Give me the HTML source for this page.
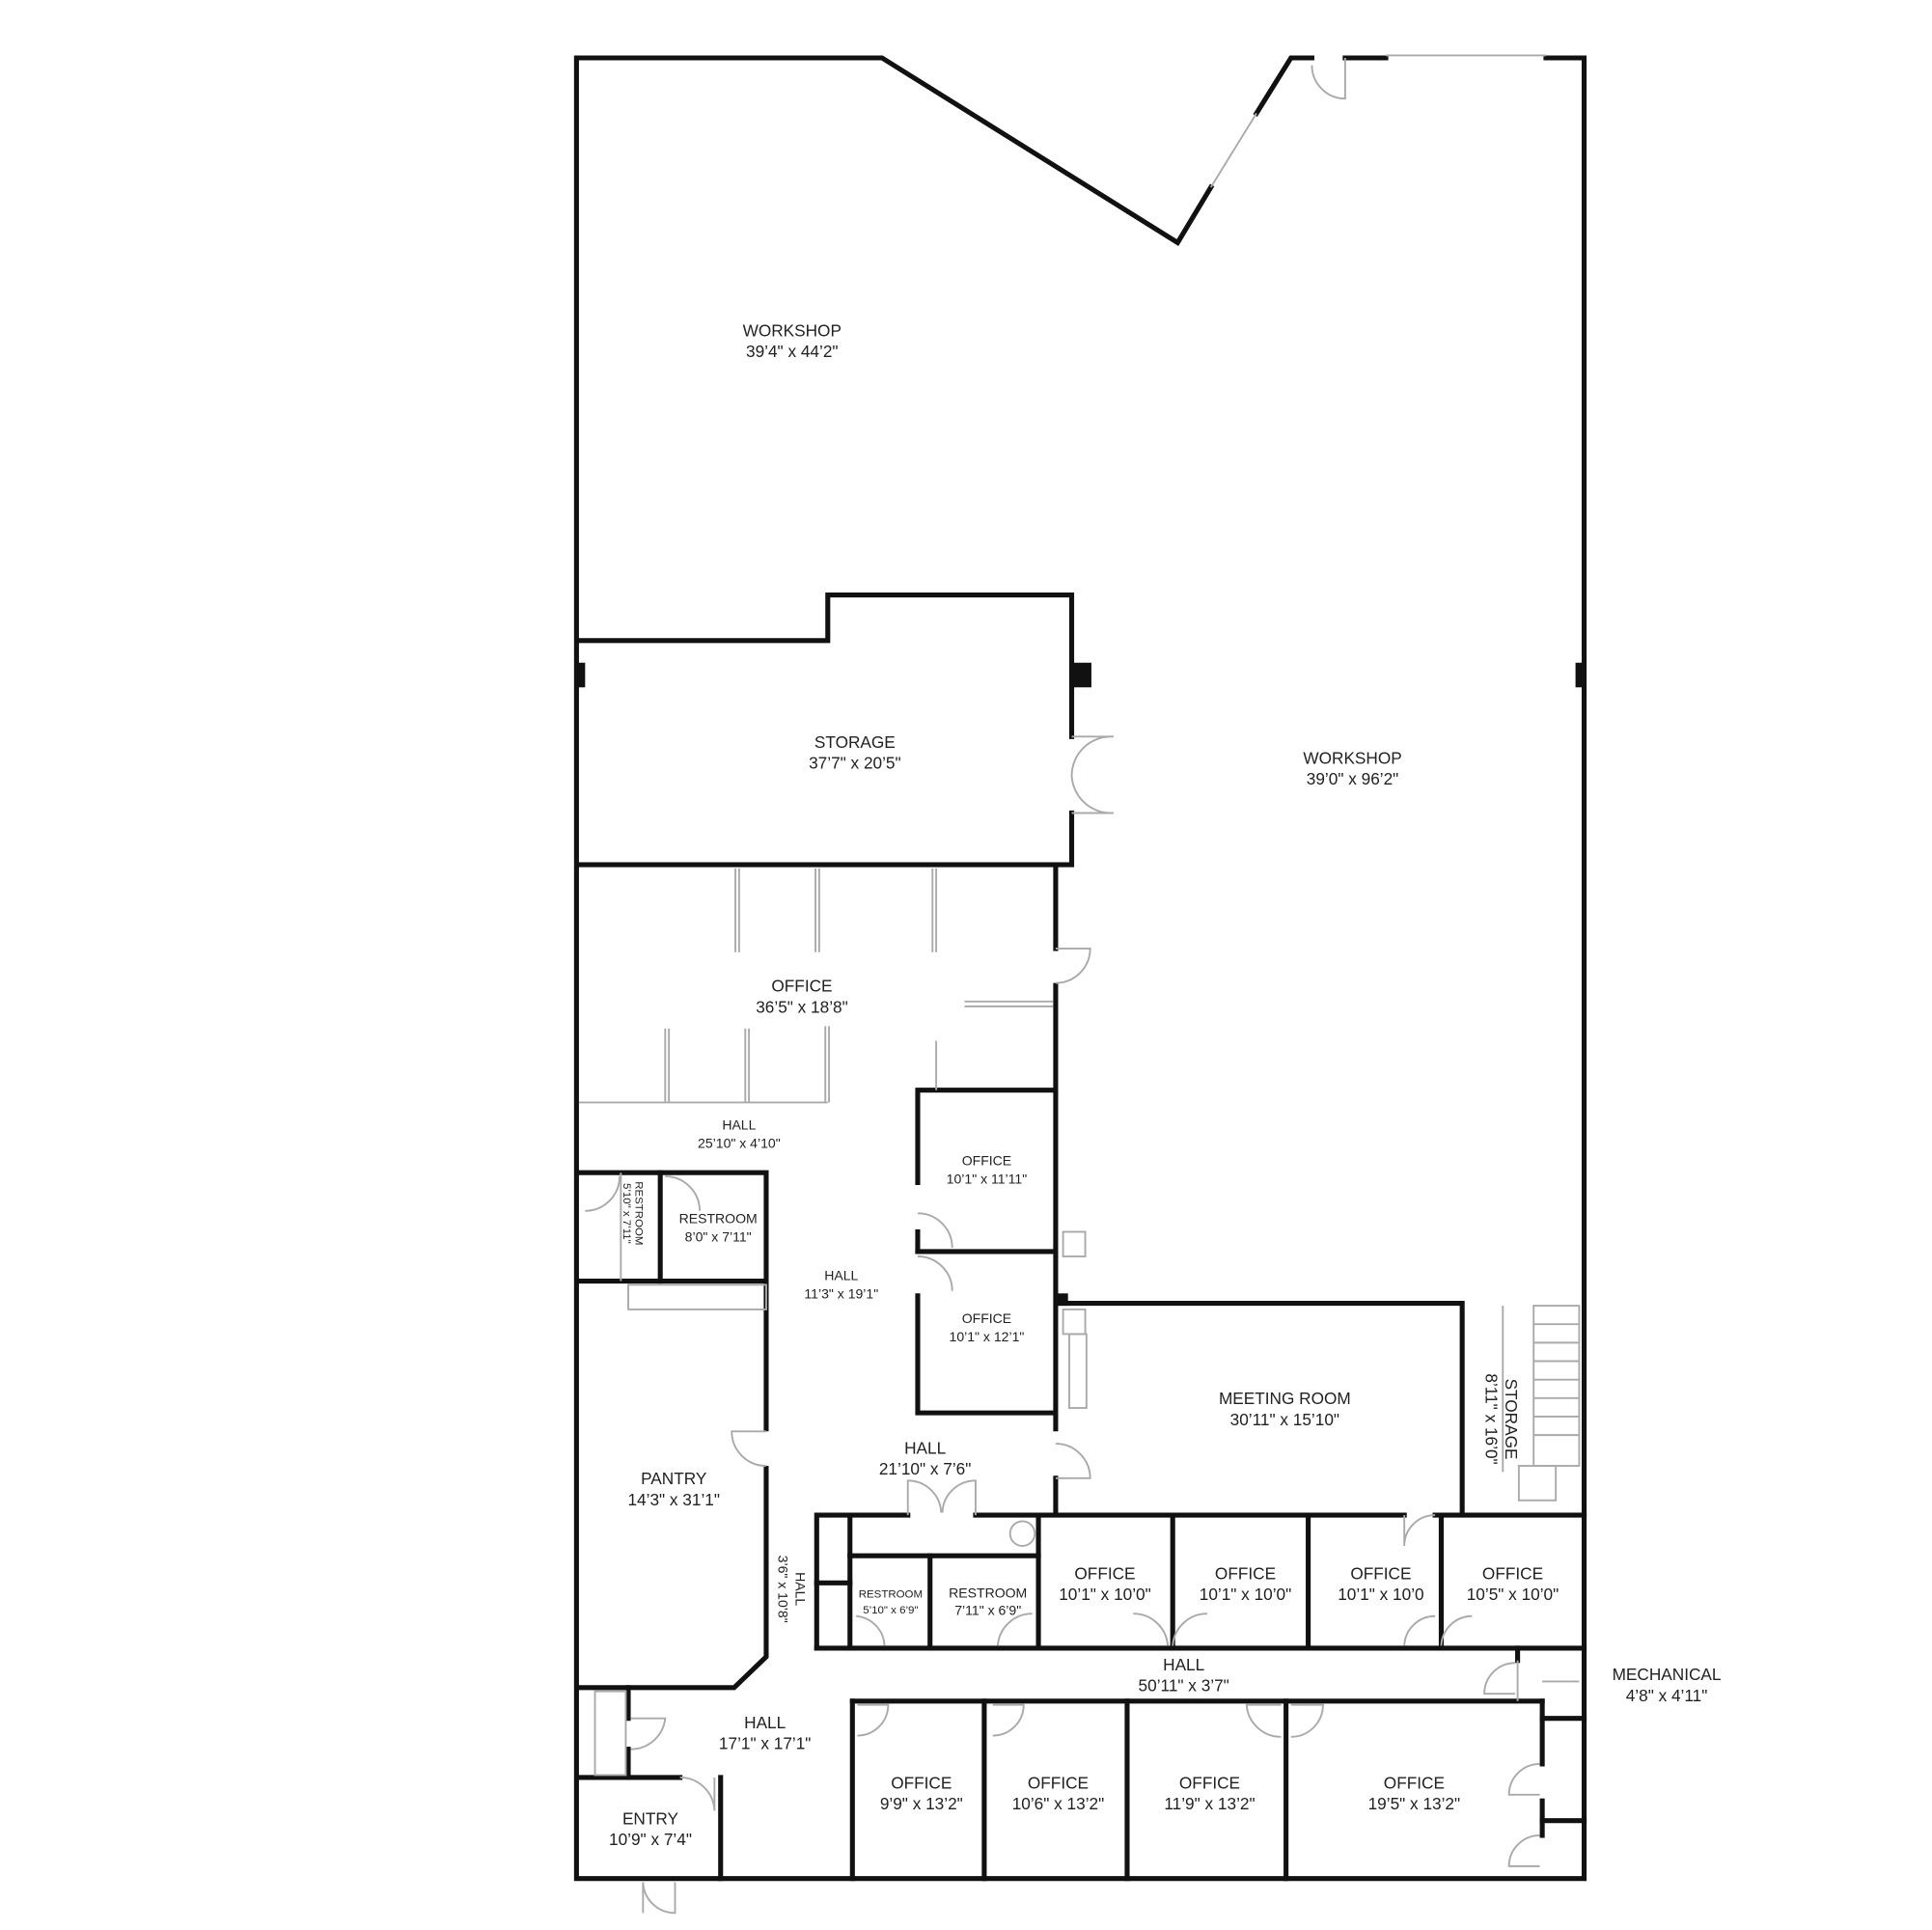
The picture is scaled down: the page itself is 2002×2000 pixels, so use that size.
<!DOCTYPE html>
<html><head><meta charset="utf-8"><style>
html,body{margin:0;padding:0;background:#fff;}
svg{display:block;}
text{font-family:"Liberation Sans",sans-serif;fill:#222;text-anchor:middle;}
.L{font-size:13.5px;}
.S{font-size:11px;}
.T{font-size:9px;}
</style></head><body>
<svg width="2002" height="2000" viewBox="0 0 1568.4 1566.8" preserveAspectRatio="none" xmlns="http://www.w3.org/2000/svg">
<rect x="0" y="0" width="1570" height="1570" fill="#fff"/>
<g fill="none" stroke="#111" stroke-width="4" stroke-linecap="square" stroke-linejoin="miter">
<polyline points="1065,47 1048,47 1020,92"/>
<polyline points="983,152 956,197 716,47 468,47 468,1525 1286,1525 1286,47 1255,47"/>
<line x1="1092" y1="47" x2="1125" y2="47"/>
<polyline points="470,520 672,520 672,483 870,483 870,598"/>
<polyline points="870,660 870,702 470,702"/>
<line x1="857" y1="702" x2="857" y2="770"/>
<line x1="857" y1="800" x2="857" y2="1160"/>
<line x1="857" y1="1200" x2="857" y2="1228"/>
<polyline points="745,960 745,885 857,885"/>
<line x1="745" y1="1016" x2="857" y2="1016"/>
<polyline points="745,1052 745,1147 857,1147"/>
<line x1="745" y1="1000" x2="745" y2="1016"/>
<polyline points="470,952 622,952 622,1040 470,1040"/>
<line x1="536" y1="952" x2="536" y2="1040"/>
<polyline points="622,1040 622,1160"/>
<polyline points="622,1192 622,1345 596,1370 470,1370"/>
<polyline points="860,1058 1187,1058 1187,1228"/>
<polyline points="663,1338 663,1230 737,1230"/>
<line x1="792" y1="1230" x2="1140" y2="1230"/>
<line x1="1165" y1="1230" x2="1286" y2="1230"/>
<line x1="690" y1="1230" x2="690" y2="1338"/>
<line x1="690" y1="1263" x2="843" y2="1263"/>
<line x1="755" y1="1263" x2="755" y2="1338"/>
<line x1="843" y1="1230" x2="843" y2="1338"/>
<line x1="952" y1="1230" x2="952" y2="1338"/>
<line x1="1062" y1="1230" x2="1062" y2="1338"/>
<line x1="1170" y1="1230" x2="1170" y2="1338"/>
<line x1="663" y1="1338" x2="1286" y2="1338"/>
<line x1="663" y1="1285" x2="690" y2="1285"/>
<line x1="692" y1="1381" x2="1252" y2="1381"/>
<line x1="692" y1="1381" x2="692" y2="1525"/>
<line x1="799" y1="1381" x2="799" y2="1525"/>
<line x1="915" y1="1381" x2="915" y2="1525"/>
<line x1="1044" y1="1381" x2="1044" y2="1525"/>
<line x1="1252" y1="1381" x2="1252" y2="1432"/>
<line x1="1252" y1="1462" x2="1252" y2="1490"/>
<line x1="1232" y1="1338" x2="1232" y2="1348"/>
<line x1="1252" y1="1395" x2="1286" y2="1395"/>
<line x1="1252" y1="1478" x2="1286" y2="1478"/>
<polyline points="470,1443 552,1443"/>
<line x1="585" y1="1443" x2="585" y2="1525"/>
<line x1="510" y1="1370" x2="510" y2="1395"/>
<line x1="510" y1="1420" x2="510" y2="1443"/>
</g>
<g fill="#111">
<rect x="468" y="538" width="7" height="20"/>
<rect x="870" y="538" width="16" height="20"/>
<rect x="1279" y="538" width="8" height="20"/>
<rect x="857" y="1050" width="10" height="10"/>
</g>
<g fill="none" stroke="#aaa" stroke-width="1.5">
<line x1="1125" y1="45" x2="1255" y2="45"/>
<line x1="983" y1="152" x2="1020" y2="92"/>
<line x1="1232" y1="1348" x2="1232" y2="1381"/>
<path d="M1092,47 L1092,80 A27,27 0 0 1 1065,53"/>
<path d="M870,598 h34 A32,32 0 0 0 870,630 M870,660 h34 A32,32 0 0 1 870,628"/>
<line x1="597" y1="705" x2="597" y2="773"/><line x1="600" y1="705" x2="600" y2="773"/>
<line x1="662" y1="705" x2="662" y2="773"/><line x1="665" y1="705" x2="665" y2="773"/>
<line x1="757" y1="705" x2="757" y2="773"/><line x1="760" y1="705" x2="760" y2="773"/>
<line x1="540" y1="835" x2="540" y2="895"/><line x1="543" y1="835" x2="543" y2="895"/>
<line x1="605" y1="835" x2="605" y2="895"/><line x1="608" y1="835" x2="608" y2="895"/>
<line x1="670" y1="833" x2="670" y2="895"/><line x1="673" y1="833" x2="673" y2="895"/>
<line x1="760" y1="845" x2="760" y2="885"/>
<line x1="783" y1="813" x2="855" y2="813"/><line x1="783" y1="817" x2="855" y2="817"/>
<line x1="470" y1="895" x2="672" y2="895"/>
<path d="M857,770 h28 A28,28 0 0 1 857,798"/>
<path d="M745,985 A28,28 0 0 1 773,1013 M745,1020 A28,28 0 0 1 773,1048"/>
<path d="M857,1172 A28,28 0 0 1 885,1200 h-28"/>
<path d="M503,955 A28,28 0 0 1 475,983 M540,955 A28,28 0 0 1 568,983"/>
<line x1="504" y1="952" x2="504" y2="1040"/>
<rect x="863" y="1000" width="18" height="20"/>
<rect x="863" y="1063" width="18" height="20"/>
<rect x="868" y="1083" width="14" height="60"/>
<rect x="510" y="1043" width="112" height="20"/>
<path d="M622,1162 h-28 A28,28 0 0 0 622,1190"/>
<path d="M737,1230 v-28 A27,27 0 0 1 764,1228 M792,1230 v-28 A27,27 0 0 0 765,1228"/>
<circle cx="830" cy="1245" r="10"/>
<line x1="1220" y1="1060" x2="1220" y2="1195"/>
<rect x="1245" y="1060" width="37" height="130"/>
<path d="M1245,1075 h37 M1245,1090 h37 M1245,1105 h37 M1245,1120 h37 M1245,1135 h37 M1245,1150 h37 M1245,1165 h37"/>
<rect x="1233" y="1190" width="30" height="28"/>
<path d="M1140,1230 v25 A25,25 0 0 1 1165,1230"/>
<path d="M1170,1336 A25,25 0 0 1 1195,1312 M952,1336 A28,28 0 0 1 980,1310 M948,1336 A28,28 0 0 0 920,1310 M1140,1336 A25,25 0 0 1 1165,1312 M810,1336 A28,28 0 0 1 838,1310 M718,1336 A25,25 0 0 0 695,1312"/>
<path d="M696,1384 h25 A25,25 0 0 1 696,1409 M806,1384 h25 A25,25 0 0 1 806,1409 M1040,1384 h-28 A28,28 0 0 0 1040,1410 M1048,1384 h26 A26,26 0 0 1 1048,1410"/>
<path d="M1230,1350 A25,25 0 0 0 1205,1375 h25"/>
<line x1="1252" y1="1365" x2="1282" y2="1365"/>
<path d="M1250,1432 A25,25 0 0 0 1225,1457 h25 M1250,1490 A25,25 0 0 0 1225,1515 h25"/>
<path d="M512,1395 h28 A28,28 0 0 1 512,1420"/>
<path d="M552,1443 A28,28 0 0 1 580,1470 v-27"/>
<path d="M522,1528 v25 M548,1528 v25 A26,26 0 0 1 522,1528"/>
<rect x="483" y="1373" width="25" height="68"/>
</g>
<text class="L" x="643" y="273">WORKSHOP</text><text class="L" x="643" y="290">39’4" x 44’2"</text>
<text class="L" x="694" y="607">STORAGE</text><text class="L" x="694" y="624">37’7" x 20’5"</text>
<text class="L" x="1098" y="620">WORKSHOP</text><text class="L" x="1098" y="637">39’0" x 96’2"</text>
<text class="L" x="651" y="805">OFFICE</text><text class="L" x="651" y="822">36’5" x 18’8"</text>
<text class="S" x="600" y="917">HALL</text><text class="S" x="600" y="932">25’10" x 4’10"</text>
<text class="S" x="801" y="946">OFFICE</text><text class="S" x="801" y="961">10’1" x 11’11"</text>
<text class="S" x="583" y="993">RESTROOM</text><text class="S" x="583" y="1008">8’0" x 7’11"</text>
<text class="T" transform="translate(516,985) rotate(90)">RESTROOM</text>
<text class="T" transform="translate(506,985) rotate(90)">5’10" x 7’11"</text>
<text class="S" x="683" y="1039">HALL</text><text class="S" x="683" y="1054">11’3" x 19’1"</text>
<text class="S" x="801" y="1074">OFFICE</text><text class="S" x="801" y="1089">10’1" x 12’1"</text>
<text class="L" x="1043" y="1140">MEETING ROOM</text><text class="L" x="1043" y="1157">30’11" x 15’10"</text>
<text class="L" transform="translate(1222,1152) rotate(90)">STORAGE</text>
<text class="L" transform="translate(1206,1152) rotate(90)">8’11" x 16’0"</text>
<text class="L" x="751" y="1180">HALL</text><text class="L" x="751" y="1197">21’10" x 7’6"</text>
<text class="L" x="547" y="1205">PANTRY</text><text class="L" x="547" y="1222">14’3" x 31’1"</text>
<text class="S" transform="translate(646,1290) rotate(90)">HALL</text>
<text class="S" transform="translate(632,1290) rotate(90)">3’6" x 10’8"</text>
<text class="T" x="723" y="1297">RESTROOM</text><text class="T" x="723" y="1310">5’10" x 6’9"</text>
<text class="S" x="802" y="1297">RESTROOM</text><text class="S" x="802" y="1311">7’11" x 6’9"</text>
<text class="L" x="897" y="1282">OFFICE</text><text class="L" x="897" y="1299">10’1" x 10’0"</text>
<text class="L" x="1011" y="1282">OFFICE</text><text class="L" x="1011" y="1299">10’1" x 10’0"</text>
<text class="L" x="1121" y="1282">OFFICE</text><text class="L" x="1121" y="1299">10’1" x 10’0</text>
<text class="L" x="1228" y="1282">OFFICE</text><text class="L" x="1228" y="1299">10’5" x 10’0"</text>
<text class="L" x="961" y="1356">HALL</text><text class="L" x="961" y="1373">50’11" x 3’7"</text>
<text class="L" x="1353" y="1364">MECHANICAL</text><text class="L" x="1353" y="1381">4’8" x 4’11"</text>
<text class="L" x="621" y="1403">HALL</text><text class="L" x="621" y="1420">17’1" x 17’1"</text>
<text class="L" x="748" y="1452">OFFICE</text><text class="L" x="748" y="1469">9’9" x 13’2"</text>
<text class="L" x="859" y="1452">OFFICE</text><text class="L" x="859" y="1469">10’6" x 13’2"</text>
<text class="L" x="982" y="1452">OFFICE</text><text class="L" x="982" y="1469">11’9" x 13’2"</text>
<text class="L" x="1148" y="1452">OFFICE</text><text class="L" x="1148" y="1469">19’5" x 13’2"</text>
<text class="L" x="528" y="1481">ENTRY</text><text class="L" x="528" y="1498">10’9" x 7’4"</text>
</svg>
</body></html>
